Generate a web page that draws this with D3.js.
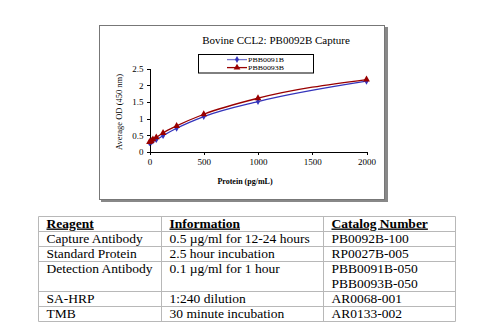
<!DOCTYPE html>
<html lang="en">
<head>
<meta charset="UTF-8">
<title>Bovine CCL2: PB0092B Capture</title>
<script src="https://d3js.org/d3.v7.min.js"></script>
<style>
    body { margin: 0; background: #fff; }
    svg text { font-family: "Liberation Serif", "Times New Roman", serif; fill: #000; }
    .axis path, .axis line { stroke: #000; shape-rendering: crispEdges; }
    .axis text { font-size: 9px; }
</style>
</head>
<body>
<svg id="chart" width="500" height="333"></svg>
<script>
    // standard curve data
    const concentrations = [0, 15.6, 31.25, 62.5, 125, 250, 500, 1000, 2000];
    const od91 = [0.28, 0.3, 0.33, 0.37, 0.49, 0.71, 1.06, 1.51, 2.12];
    const od93 = [0.3, 0.33, 0.38, 0.44, 0.57, 0.78, 1.13, 1.61, 2.17];
    const seriesNames = ["PBB0091B", "PBB0093B"];
    const xTicks = [0, 500, 1000, 1500, 2000];
    const yTicks = [0, 0.5, 1, 1.5, 2, 2.5];

    // reagent table
    const tableHeader = ["Reagent", "Information", "Catalog Number"];
    const reagents = ["Capture Antibody", "Standard Protein", "Detection Antibody", "SA-HRP", "TMB"];
    const infos = ["0.5 µg/ml for 12-24 hours", "2.5 hour incubation", "0.1 µg/ml for 1 hour", "1:240 dilution", "30 minute incubation"];
    const catalogs = [["PB0092B-100"], ["RP0027B-005"], ["PBB0091B-050", "PBB0093B-050"], ["AR0068-001"], ["AR0133-002"]];

    const svg = d3.select("#chart");

    // chart frame with shadow
    svg.append("rect").attr("x", 101).attr("y", 27).attr("width", 287).attr("height", 175).attr("fill", "#888");
    svg.append("rect").attr("x", 99.5).attr("y", 25.5).attr("width", 285).attr("height", 174)
        .attr("fill", "#fff").attr("stroke", "#777").attr("stroke-width", 1);

    const x = d3.scaleLinear().domain([0, 2000]).range([149.5, 366.5]);
    const y = d3.scaleLinear().domain([0, 2.5]).range([152, 68.5]);

    svg.append("g").attr("class", "axis")
        .attr("transform", "translate(0,152)")
        .call(d3.axisBottom(x).tickValues(xTicks).tickSize(3).tickPadding(4).tickFormat(d3.format("d")));

    svg.append("g").attr("class", "axis")
        .attr("transform", "translate(149.5,0)")
        .call(d3.axisLeft(y).tickValues(yTicks).tickSize(3).tickPadding(3).tickFormat(d => d));

    svg.append("text").attr("x", 276).attr("y", 44).attr("text-anchor", "middle")
        .style("font-size", "11px").text("Bovine CCL2: PB0092B Capture");

    svg.append("text").attr("x", 245).attr("y", 184).attr("text-anchor", "middle")
        .style("font-size", "8px").style("font-weight", "bold").text("Protein (pg/mL)");

    svg.append("text").attr("transform", "translate(122,112) rotate(-90)").attr("text-anchor", "middle")
        .style("font-size", "8.5px").text("Average OD (450 nm)");

    const colors = ["#3333bb", "#990000"];
    const series = [od91, od93];
    const line = d3.line().x(d => x(d[0])).y(d => y(d[1])).curve(d3.curveMonotoneX);
    const diamond = d3.symbol().type(d3.symbolDiamond).size(14);
    const triangle = d3.symbol().type(d3.symbolTriangle).size(20);

    series.forEach((vals, i) => {
        const pts = concentrations.map((c, j) => [c, vals[j]]);
        svg.append("path").datum(pts).attr("d", line)
            .attr("fill", "none").attr("stroke", colors[i]).attr("stroke-width", 1.3);
        svg.selectAll(".m" + i).data(pts).enter().append("path")
            .attr("class", "m" + i)
            .attr("transform", d => `translate(${x(d[0])},${y(d[1])})`)
            .attr("d", i === 0 ? diamond : triangle)
            .attr("fill", colors[i]);
    });

    // legend
    const lg = svg.append("g");
    lg.append("rect").attr("x", 198.5).attr("y", 54.5).attr("width", 115).attr("height", 18.5)
        .attr("fill", "#fff").attr("stroke", "#000").attr("stroke-width", 1);
    seriesNames.forEach((name, i) => {
        const ly = 59.6 + i * 8;
        lg.append("line").attr("x1", 227).attr("x2", 247).attr("y1", ly).attr("y2", ly)
            .attr("stroke", i === 0 ? "#7777cc" : colors[i]).attr("stroke-width", 1.3);
        lg.append("path").attr("transform", `translate(237,${ly})`)
            .attr("d", i === 0 ? diamond : triangle).attr("fill", colors[i]);
        lg.append("text").attr("x", 248).attr("y", ly + 2.6).style("font-size", "7px")
            .attr("textLength", 36).attr("lengthAdjust", "spacingAndGlyphs").text(name);
    });

    // reagent table
    const colX = [38.5, 161.5, 323.5, 455.5];
    const rowY = [216.5, 231.5, 246.5, 261.5, 291.5, 306.5, 321.5];
    const tbl = svg.append("g");
    const lineColor = "#b8b8b8";
    const fs = "13.5px";
    rowY.forEach(ry => {
        tbl.append("line").attr("x1", colX[0]).attr("x2", colX[3]).attr("y1", ry).attr("y2", ry)
            .attr("stroke", lineColor);
    });
    colX.forEach(cx => {
        tbl.append("line").attr("x1", cx).attr("x2", cx).attr("y1", rowY[0]).attr("y2", rowY[rowY.length - 1])
            .attr("stroke", lineColor);
    });

    tableHeader.forEach((h, i) => {
        tbl.append("text").attr("x", colX[i] + 8).attr("y", rowY[0] + 11)
            .style("font-size", fs).style("font-weight", "bold")
            .style("text-decoration", "underline").text(h);
    });
    reagents.forEach((r, i) => {
        const base = rowY[i + 1] + 11;
        tbl.append("text").attr("x", colX[0] + 8).attr("y", base).style("font-size", fs).text(r);
        tbl.append("text").attr("x", colX[1] + 8).attr("y", base).style("font-size", fs).text(infos[i]);
        catalogs[i].forEach((c, k) => {
            tbl.append("text").attr("x", colX[2] + 8).attr("y", base + k * 15).style("font-size", fs).text(c);
        });
    });
</script>
</body>
</html>
